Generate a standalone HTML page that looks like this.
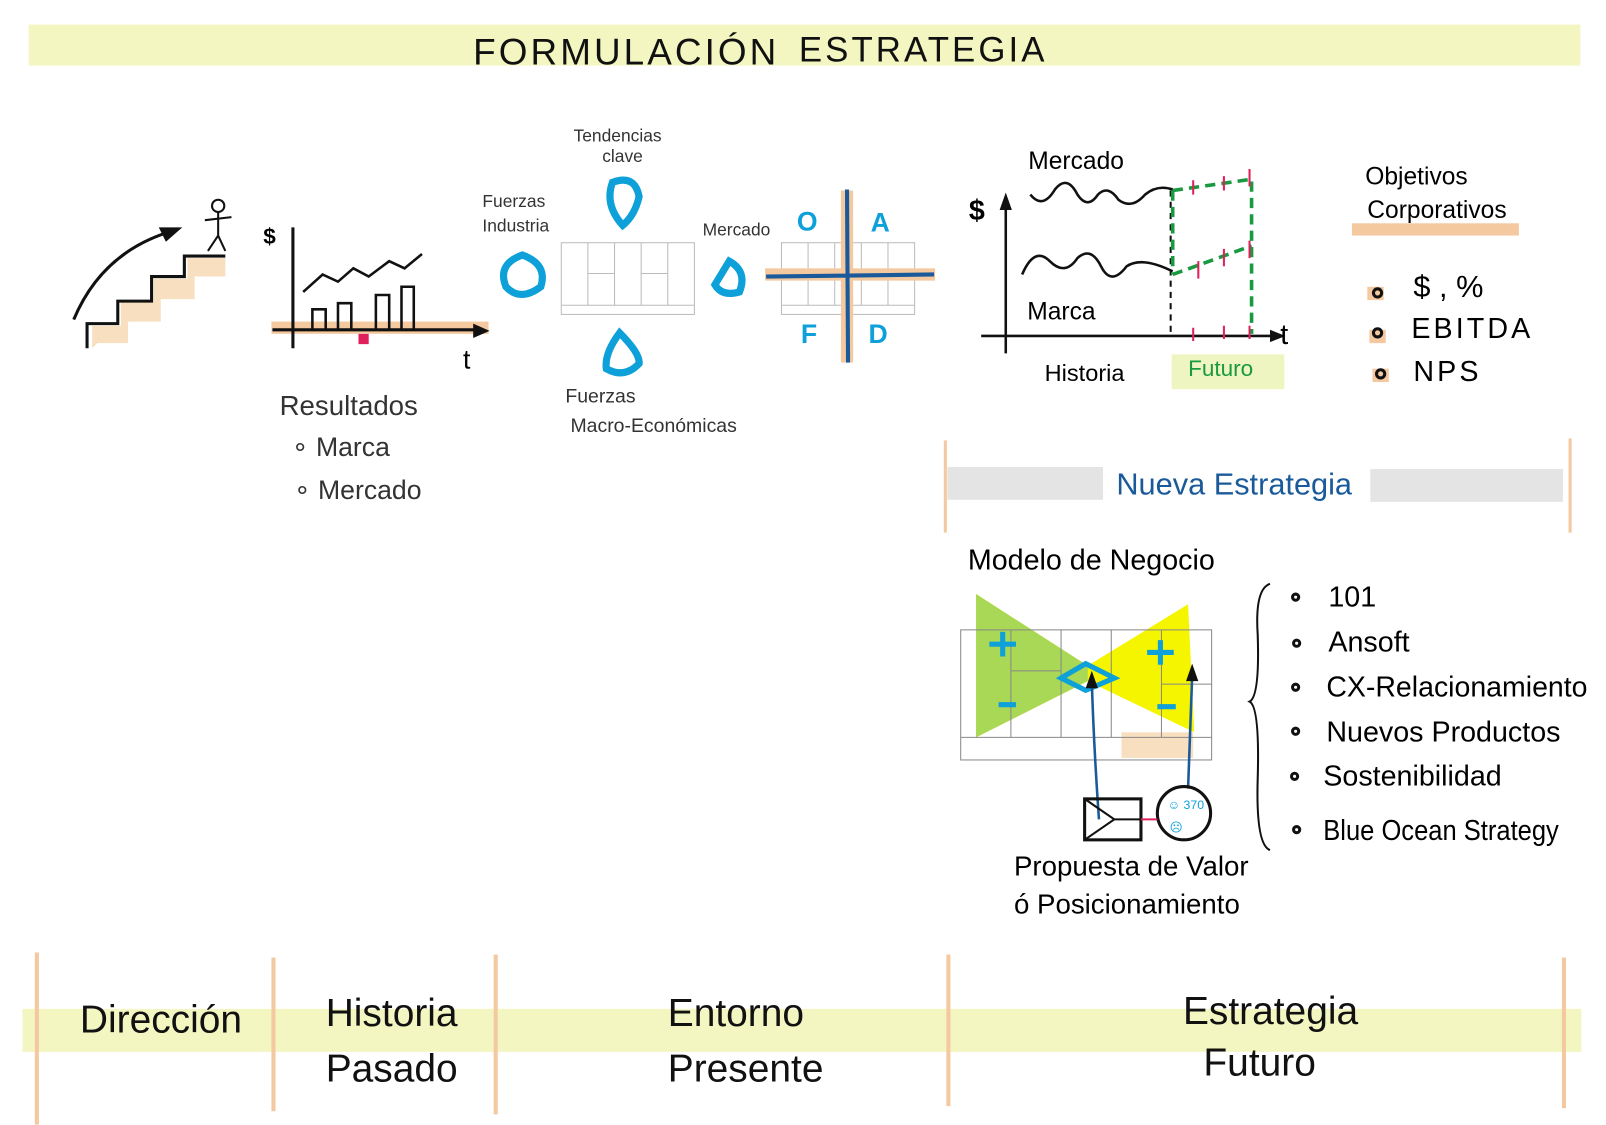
<!DOCTYPE html>
<html><head><meta charset="utf-8"><style>
html,body{margin:0;padding:0;background:#fff;}
svg{display:block;}
text{font-family:"Liberation Sans",sans-serif;}
</style></head><body>
<svg width="1606" height="1125" viewBox="0 0 1606 1125" xmlns="http://www.w3.org/2000/svg">
<g transform="scale(1.0242)">
<!-- title band -->
<rect x="28" y="24" width="1515" height="40" fill="#f3f6c0"/>
<text x="462" y="63" font-size="36" fill="#111" letter-spacing="3">FORMULACIÓN</text>
<text x="780" y="60" font-size="34" fill="#111" letter-spacing="3">ESTRATEGIA</text>

<!-- stairs -->
<path d="M90 340 V318 H118 V295 H150 V272 H183 V252 H220 V270 H190 V292 H157 V314 H125 V335 H95 Z" fill="#f8dfc0"/>
<path d="M85 340 V316 H115 V294 H148 V270 H180 V250 H220" fill="none" stroke="#111" stroke-width="3"/>
<path d="M72 312 Q100 245 170 225" fill="none" stroke="#111" stroke-width="3"/>
<path d="M155 222 L178 222 L162 236 Z" fill="#111"/>
<circle cx="213" cy="201" r="6" fill="none" stroke="#111" stroke-width="2"/>
<path d="M213 207 V230 M200 215 L226 212 M213 230 L203 245 M213 230 L220 245" stroke="#111" stroke-width="2" fill="none"/>
<!-- results chart -->
<rect x="265" y="314" width="212" height="12" fill="#f5c9a0"/>
<path d="M286 222 V340 M266 322 H470" stroke="#111" stroke-width="3" fill="none"/>
<path d="M462 316 L478 323 L462 330 Z" fill="#111"/>
<text x="257" y="238" font-size="22" font-weight="bold">$</text>
<text x="452" y="360" font-size="26">t</text>
<path d="M305 322 V302 H318 V322 M330 322 V296 H343 V322 M367 322 V288 H380 V322 M392 322 V280 H404 V322" stroke="#111" stroke-width="2.5" fill="none"/>
<path d="M296 285 L315 268 L330 275 L345 262 L360 270 L380 255 L395 262 L412 248" stroke="#111" stroke-width="2.5" fill="none"/>
<rect x="350" y="326" width="10" height="10" fill="#e0205a"/>
<text x="273" y="405" font-size="27" fill="#333">Resultados</text>
<text x="285" y="445" font-size="26" fill="#333">∘ Marca</text>
<text x="287" y="487" font-size="26" fill="#333">∘ Mercado</text>

<!-- PESTEL / canvas -->
<text x="560" y="138" font-size="17" fill="#333">Tendencias</text>
<text x="588" y="158" font-size="17" fill="#333">clave</text>
<text x="471" y="202" font-size="17" fill="#333">Fuerzas</text>
<text x="471" y="226" font-size="17" fill="#333">Industria</text>
<text x="686" y="230" font-size="17" fill="#333">Mercado</text>
<text x="552" y="393" font-size="19" fill="#333">Fuerzas</text>
<text x="557" y="422" font-size="19" fill="#333">Macro-Económicas</text>
<g stroke="#0ea0d8" stroke-width="7" fill="none">
<path d="M598 178 Q620 170 624 192 Q620 210 608 220 Q590 200 598 178Z"/>
<path d="M510 249 Q535 258 528 280 Q508 295 494 280 Q485 258 510 249Z"/>
<path d="M712 255 Q730 265 722 285 Q705 290 698 278 Z"/>
<path d="M605 325 Q625 345 624 355 Q610 370 592 360 Q590 345 605 325Z"/>
</g>
<g stroke="#bbb" stroke-width="1" fill="none">
<rect x="548" y="237" width="130" height="70"/>
<line x1="548" y1="298" x2="678" y2="298"/><line x1="574" y1="237" x2="574" y2="298"/>
<line x1="600" y1="237" x2="600" y2="298"/><line x1="626" y1="237" x2="626" y2="298"/>
<line x1="652" y1="237" x2="652" y2="298"/><line x1="574" y1="267" x2="600" y2="267"/><line x1="626" y1="267" x2="652" y2="267"/>
<rect x="763" y="237" width="130" height="70"/>
<line x1="763" y1="298" x2="893" y2="298"/><line x1="789" y1="237" x2="789" y2="298"/>
<line x1="815" y1="237" x2="815" y2="298"/><line x1="841" y1="237" x2="841" y2="298"/>
<line x1="867" y1="237" x2="867" y2="298"/>
</g>
<!-- SWOT -->
<rect x="747" y="262" width="166" height="12" fill="#f5c9a0"/>
<rect x="821" y="186" width="12" height="168" fill="#f5c9a0"/>
<path d="M748 270 L912 268 M827 185 L828 354" stroke="#1a5a9a" stroke-width="4" fill="none"/>
<text x="778" y="225" font-size="26" fill="#0ea0d8" font-weight="bold">O</text>
<text x="850" y="226" font-size="26" fill="#0ea0d8" font-weight="bold">A</text>
<text x="782" y="335" font-size="26" fill="#0ea0d8" font-weight="bold">F</text>
<text x="848" y="335" font-size="26" fill="#0ea0d8" font-weight="bold">D</text>

<!-- market chart -->
<text x="1004" y="165" font-size="24">Mercado</text>
<text x="946" y="215" font-size="28" font-weight="bold">$</text>
<path d="M982 195 V345 M958 328 H1250" stroke="#111" stroke-width="2.5" fill="none"/>
<path d="M976 205 L982 188 L988 205Z M1240 322 L1255 328 L1240 334Z" fill="#111"/>
<text x="1250" y="336" font-size="28">t</text>
<path d="M1006 190 Q1018 205 1030 185 Q1042 170 1052 190 Q1062 205 1072 190 Q1082 180 1092 195 Q1105 205 1118 190 Q1130 180 1145 185" stroke="#111" stroke-width="2.5" fill="none"/>
<path d="M998 268 Q1010 240 1025 255 Q1040 270 1052 252 Q1065 240 1075 260 Q1085 280 1100 260 Q1115 250 1145 265" stroke="#111" stroke-width="2.5" fill="none"/>
<path d="M1143 186 V326" stroke="#111" stroke-width="2" stroke-dasharray="6,5"/>
<path d="M1145 186 L1222 175 L1222 326 M1145 268 L1222 240 M1145 186 V268" stroke="#1a9a40" stroke-width="3.5" stroke-dasharray="10,6" fill="none"/>
<g stroke="#e0205a" stroke-width="2"><path d="M1165 176 V190 M1195 172 V186 M1220 165 V182 M1170 255 V272 M1195 243 V260 M1220 235 V252 M1165 320 V333 M1195 318 V331 M1220 318 V331"/></g>
<text x="1003" y="312" font-size="24">Marca</text>
<text x="1020" y="372" font-size="23">Historia</text>
<rect x="1144" y="346" width="110" height="34" fill="#eef5c0"/>
<text x="1160" y="367" font-size="22" fill="#1a9a40">Futuro</text>

<!-- objetivos -->
<text x="1333" y="180" font-size="24">Objetivos</text>
<text x="1335" y="213" font-size="24">Corporativos</text>
<rect x="1320" y="218" width="163" height="12" fill="#f5c9a0"/>
<g fill="#f5c9a0"><rect x="1335" y="280" width="16" height="13"/><rect x="1337" y="322" width="16" height="13"/><rect x="1340" y="360" width="16" height="13"/></g>
<g fill="none" stroke="#111" stroke-width="3"><circle cx="1345" cy="286" r="4"/><circle cx="1345" cy="325" r="4"/><circle cx="1348" cy="365" r="4"/></g>
<text x="1380" y="290" font-size="30">$ , %</text>
<text x="1378" y="330" font-size="28" letter-spacing="3">EBITDA</text>
<text x="1380" y="372" font-size="28" letter-spacing="3">NPS</text>

<!-- nueva estrategia -->
<path d="M923 430 V520 M1533 428 V520" stroke="#f5c9a0" stroke-width="3"/>
<rect x="925" y="456" width="152" height="32" fill="#e4e4e4"/>
<rect x="1338" y="458" width="188" height="32" fill="#e4e4e4"/>
<text x="1090" y="483" font-size="30" fill="#1a5a9a">Nueva Estrategia</text>

<text x="945" y="556" font-size="28">Modelo de Negocio</text>
<path d="M953 580 L1062 650 L1160 590 L1166 715 L1062 665 L953 720 Z" fill="#f5f500"/>
<path d="M953 580 L1062 650 L1062 665 L953 720 Z" fill="#a8d855"/>
<rect x="1095" y="715" width="70" height="25" fill="#f8dfc0"/>
<g stroke="#888" stroke-width="1" fill="none">
<rect x="938" y="615" width="245" height="127"/>
<line x1="938" y1="720" x2="1183" y2="720"/>
<line x1="987" y1="615" x2="987" y2="720"/><line x1="1036" y1="615" x2="1036" y2="720"/>
<line x1="1085" y1="615" x2="1085" y2="720"/><line x1="1134" y1="615" x2="1134" y2="720"/>
<line x1="987" y1="655" x2="1036" y2="655"/><line x1="1134" y1="668" x2="1183" y2="668"/>
</g>
<g stroke="#0ea0d8" stroke-width="5" fill="none">
<path d="M966 629 H992 M979 617 V641 M1120 637 H1146 M1133 625 V649 M975 688 H992 M1130 690 H1148"/>
<path d="M1036 662 L1060 648 L1088 662 L1060 674 Z"/>
</g>
<path d="M1073 800 Q1068 730 1066 665 M1160 770 Q1162 720 1164 660" stroke="#1a5a9a" stroke-width="2.5" fill="none"/>
<path d="M1060 672 L1066 655 L1072 672Z M1158 665 L1164 648 L1170 665Z" fill="#111"/>
<rect x="1059" y="780" width="55" height="40" fill="none" stroke="#111" stroke-width="3"/>
<path d="M1059 780 L1088 800 L1059 820 M1088 800 H1114" stroke="#111" stroke-width="2" fill="none"/>
<circle cx="1156" cy="794" r="26" fill="none" stroke="#111" stroke-width="3"/>
<path d="M1114 800 H1130" stroke="#e0205a" stroke-width="2"/>
<text x="1140" y="790" font-size="12" fill="#0ea0d8">☺ 370</text>
<text x="1142" y="812" font-size="12" fill="#0ea0d8">☹</text>
<text x="990" y="855" font-size="27">Propuesta de Valor</text>
<text x="990" y="892" font-size="27">ó Posicionamiento</text>

<path d="M1240 570 Q1225 575 1228 620 Q1230 680 1220 685 Q1230 690 1228 760 Q1226 825 1240 830" stroke="#111" stroke-width="2" fill="none"/>
<g fill="none" stroke="#111" stroke-width="3"><circle cx="1265" cy="583" r="3"/><circle cx="1266" cy="628" r="3"/><circle cx="1265" cy="671" r="3"/><circle cx="1265" cy="714" r="3"/><circle cx="1264" cy="758" r="3"/><circle cx="1266" cy="810" r="3"/></g>
<g font-size="28"><text x="1297" y="592">101</text><text x="1297" y="636">Ansoft</text><text x="1295" y="680" textLength="255" lengthAdjust="spacingAndGlyphs">CX-Relacionamiento</text><text x="1295" y="724">Nuevos Productos</text><text x="1292" y="767">Sostenibilidad</text><text x="1292" y="820" textLength="230" lengthAdjust="spacingAndGlyphs">Blue Ocean Strategy</text></g>

<!-- bottom timeline -->
<rect x="22" y="985" width="1522" height="42" fill="#f3f6c0"/>
<g stroke="#f5c9a0" stroke-width="4"><path d="M36 930 V1098 M267 935 V1085 M484 932 V1088 M926 932 V1080 M1527 935 V1082"/></g>
<g font-size="38" fill="#111"><text x="78" y="1008">Dirección</text><text x="318" y="1002">Historia</text><text x="318" y="1056">Pasado</text><text x="652" y="1002">Entorno</text><text x="652" y="1056">Presente</text><text x="1155" y="1000">Estrategia</text><text x="1175" y="1050">Futuro</text></g>
</g>
</svg>
</body></html>
